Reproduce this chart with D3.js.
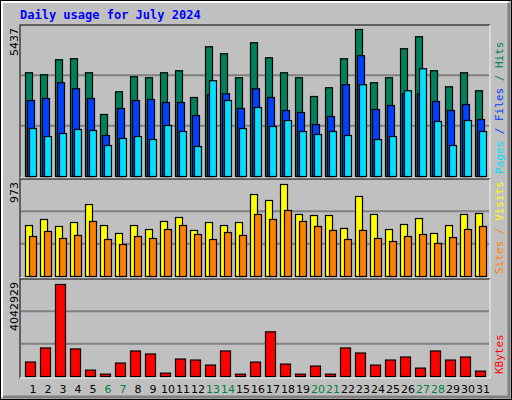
<!DOCTYPE html>
<html><head><meta charset="utf-8">
<script src="https://cdn.jsdelivr.net/npm/d3@7"></script>
<style>body{margin:0;background:#fff}svg{display:block}</style>
</head><body>
<script>
const days = d3.range(1, 32);
const weekends = [6, 7, 13, 14, 20, 21, 27, 28];
const hits = [3837,3763,4318,4355,3837,2293,3134,3689,3652,3837,3911,2922,4799,4540,3652,4946,4392,3837,3652,2959,3282,4355,5437,3467,3652,4725,5168,3911,3319,3837,3171];
const files = [2811,2885,3467,3245,2885,1516,2515,2811,2848,2737,2737,2256,3023,3060,2515,3245,2922,2441,2367,1923,2219,3393,4466,2478,2626,3060,3060,2774,2441,2663,2108];
const pages = [1775,1479,1590,1738,1701,1146,1405,1479,1368,1886,1664,1109,3541,2811,1775,2552,1849,2071,1664,1553,1664,1516,3393,1368,1479,3171,3985,2034,1146,2071,1664];
const visitsPx = [151,133,154,142,88,151,175,151,163,139,127,166,142,151,142,58,76,28,118,121,121,160,64,118,163,148,130,175,151,118,115];
const sitesPx = [184,169,190,181,139,193,208,184,190,163,151,178,193,172,181,118,133,106,139,154,166,193,166,190,199,184,178,205,187,163,154];
const visits = visitsPx.map(v => Math.round((304 - v) * 973 / 276));
const sites = sitesPx.map(v => Math.round((304 - v) * 973 / 276));
const kbPx = [559,517,328,520,583,595,562,526,535,592,550,553,568,526,595,559,469,565,595,571,595,517,532,568,553,544,577,526,553,544,586];
const kbytes = kbPx.map(v => Math.round((602 - v) * 4042929 / 274));

const W = 512, H = 400;
const svg = d3.select("body").append("svg").attr("width", W).attr("height", H)
  .style("font-family", "'DejaVu Sans Mono', monospace");

// frame
svg.append("rect").attr("x", 0.5).attr("y", 0.5).attr("width", W - 1).attr("height", H - 1)
  .attr("fill", "#c0c0c0").attr("stroke", "#000");
svg.append("path").attr("d", "M2,397V2H508").attr("fill", "none").attr("stroke", "#fff").attr("stroke-width", 2);
svg.append("path").attr("d", "M509,3V397H3").attr("fill", "none").attr("stroke", "#808080").attr("stroke-width", 3);

svg.append("text").attr("x", 20).attr("y", 19).attr("fill", "#0000ff")
  .attr("font-weight", "bold").attr("font-size", 12).text("Daily usage for July 2024");

const x = d3.scaleLinear().domain([1, 31]).range([25, 475]);

const panels = [
  { top: 25, bottom: 178, base: 176, maxY: 29, max: 5437, label: "5437",
    series: [[hits, "#00805c", 0], [files, "#0040ff", 2], [pages, "#00e0ff", 4]],
    legend: [["Pages", "#00e0ff"], [" / ", "#0040ff"], ["Files", "#0040ff"], [" / ", "#00805c"], ["Hits", "#00805c"]] },
  { top: 179, bottom: 278, base: 276, maxY: 184, max: 973, label: "973",
    series: [[visits, "#ffff00", 0], [sites, "#ff8000", 4]],
    legend: [["Sites", "#ff8000"], [" / ", "#ff8000"], ["Visits", "#ffff00"]] },
  { top: 279, bottom: 378, base: 376, maxY: 284, max: 4042929, label: "4042929",
    series: [[kbytes, "#ff0000", 0]], wide: true,
    legend: [["KBytes", "#ff0000"]] }
];

panels.forEach(p => {
  const y = d3.scaleLinear().domain([0, p.max]).range([p.base, p.maxY]);
  svg.append("rect").attr("x", 20).attr("y", p.top).attr("width", 470).attr("height", p.bottom - p.top)
    .attr("fill", "#c0c0c0").attr("stroke", "#000");
  svg.append("path").attr("d", `M20,${p.bottom}H490V${p.top}`).attr("fill", "none").attr("stroke", "#fff").attr("stroke-width", 1.5);
  const step = (p.base - p.top) / 3;
  [1, 2].forEach(i => {
    svg.append("line").attr("x1", 21).attr("x2", 489)
      .attr("y1", p.base - step * i).attr("y2", p.base - step * i).attr("stroke", "#808080").attr("stroke-width", 2);
  });
  p.series.forEach(([vals, color, off]) => {
    const w = p.wide ? 10 : 7;
    svg.append("g").selectAll("rect").data(vals).join("rect")
      .attr("x", (d, i) => x(days[i]) + off + 0.5)
      .attr("y", d => y(d) + 0.5)
      .attr("width", w)
      .attr("height", d => p.base - y(d))
      .attr("fill", color).attr("stroke", "#000").attr("stroke-width", 1.2);
  });
  svg.append("text").attr("transform", `translate(18,${p.top + 3}) rotate(-90)`)
    .attr("text-anchor", "end").attr("font-size", 11).attr("font-family", "'DejaVu Sans', sans-serif")
    .text(p.label);
  const t = svg.append("text").attr("transform", `translate(495,${p.bottom - 4}) rotate(-90)`)
    .attr("font-size", 11).attr("dominant-baseline", "hanging");
  p.legend.forEach(([s, c]) => t.append("tspan").attr("fill", c).text(s));
});

svg.append("g").selectAll("text").data(days).join("text")
  .attr("x", d => x(d) + 8).attr("y", 393).attr("text-anchor", "middle")
  .attr("font-size", 11).attr("font-family", "'DejaVu Sans', sans-serif")
  .attr("fill", d => weekends.includes(d) ? "#008040" : "#000")
  .text(d => d);
</script>
</body></html>
